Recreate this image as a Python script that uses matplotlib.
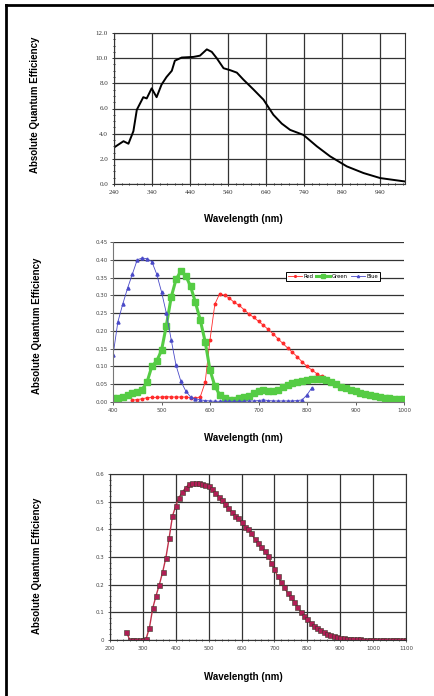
import numpy as np
import matplotlib
matplotlib.use('Agg')
import matplotlib.pyplot as plt
from matplotlib.lines import Line2D
from matplotlib.ticker import MultipleLocator, FormatStrFormatter

# --- panel 1: mono sensor QE ---
wl_top = [240, 265, 278, 291, 300, 317, 326, 339, 352, 365, 378, 392, 400, 418,
          449, 466, 484, 497, 510, 528, 545, 563, 580, 607, 633, 659, 681, 703,
          738, 773, 808, 852, 896, 940, 1005]
qe_top = [2.9, 3.4, 3.2, 4.2, 5.9, 6.9, 6.8, 7.6, 6.9, 7.9, 8.5, 9.0, 9.8, 10.05,
          10.1, 10.2, 10.7, 10.5, 10.0, 9.2, 9.05, 8.85, 8.3, 7.5, 6.7, 5.5, 4.8, 4.3,
          3.9, 3.0, 2.2, 1.4, 0.87, 0.47, 0.2]

# --- panel 2: RGB ---
wl_blue = list(range(400, 811, 10))
qe_blue = [0.131, 0.225, 0.275, 0.32, 0.36, 0.40, 0.405, 0.403, 0.395, 0.36, 0.31,
           0.25, 0.175, 0.103, 0.058, 0.031, 0.014, 0.009, 0.006, 0.004, 0.003,
           0.002, 0.002, 0.002, 0.002, 0.002, 0.002, 0.002, 0.003, 0.003, 0.004,
           0.006, 0.004, 0.003, 0.003, 0.003, 0.003, 0.003, 0.004, 0.006, 0.02, 0.04]

wl_green = list(range(400, 1001, 10))
qe_green = [0.011, 0.012, 0.015, 0.019, 0.024, 0.028, 0.035, 0.055, 0.1, 0.115,
            0.145, 0.215, 0.295, 0.345, 0.368, 0.355, 0.325, 0.28, 0.23, 0.17,
            0.09, 0.045, 0.02, 0.01, 0.007, 0.007, 0.01, 0.014, 0.018, 0.024,
            0.03, 0.033, 0.032, 0.031, 0.035, 0.041, 0.048, 0.053, 0.057, 0.06,
            0.063, 0.065, 0.066, 0.065, 0.061, 0.055, 0.05, 0.043, 0.038, 0.034,
            0.03, 0.026, 0.023, 0.02, 0.017, 0.014, 0.012, 0.011, 0.009, 0.008, 0.0075]

wl_red = list(range(440, 1001, 10))
qe_red = [0.005, 0.007, 0.009, 0.012, 0.013, 0.013, 0.014, 0.015, 0.014, 0.014,
          0.014, 0.014, 0.012, 0.01, 0.015, 0.055, 0.175, 0.275, 0.305, 0.30,
          0.292, 0.28, 0.272, 0.26, 0.248, 0.238, 0.227, 0.216, 0.204, 0.192,
          0.178, 0.165, 0.152, 0.14, 0.127, 0.113, 0.1, 0.09, 0.08, 0.072,
          0.065, 0.058, 0.05, 0.044, 0.038, 0.033, 0.028, 0.024, 0.02, 0.017,
          0.014, 0.012, 0.01, 0.009, 0.008, 0.007, 0.006]

# --- panel 3 ---
wl_bot = list(range(250, 1101, 10))
qe_bot = [0.03, 0.0, 0.0, 0.0, 0.0, 0.0, 0.005, 0.045, 0.115, 0.16, 0.2, 0.245,
          0.298, 0.37, 0.448, 0.485, 0.515, 0.535, 0.55, 0.563, 0.567, 0.568,
          0.566, 0.563, 0.56, 0.555, 0.547, 0.533, 0.518, 0.505, 0.49, 0.476,
          0.463, 0.45, 0.44, 0.425, 0.41, 0.4, 0.385, 0.365, 0.35, 0.335, 0.32,
          0.305, 0.28, 0.255, 0.23, 0.21, 0.19, 0.17, 0.155, 0.138, 0.12, 0.103,
          0.088, 0.075, 0.062, 0.052, 0.043, 0.035, 0.028, 0.022, 0.017, 0.013,
          0.01, 0.008, 0.006, 0.005, 0.004, 0.003, 0.002, 0.002, 0.001, 0.001,
          0.001, 0.001, 0.001, 0.0, 0.0, 0.0, 0.0, 0.0, 0.0, 0.0, 0.0, 0.0]

W, H = 434, 696
fig = plt.figure(figsize=(W / 100, H / 100), dpi=100)
fig.patch.set_facecolor('white')

def px_axes(x0, y0, x1, y1):
    return fig.add_axes([x0 / W, 1 - y1 / H, (x1 - x0) / W, (y1 - y0) / H])

label_font = dict(family='Liberation Sans', fontweight='bold', fontsize=7)
grid_kw = dict(color='#333333', linewidth=0.9)

# frame of the page
fig.add_artist(Line2D([6 / W, 6 / W], [0, 1 - 5 / H], color='black', lw=2.0))
fig.add_artist(Line2D([6 / W, 1], [1 - 5 / H, 1 - 5 / H], color='black', lw=2.0))

# ---------- top ----------
ax1 = px_axes(114, 33, 405, 184)
ax1.plot(wl_top, qe_top, color='black', lw=1.4)
ax1.set_xlim(240, 1005)
ax1.set_ylim(0, 12)
ax1.set_xticks(range(240, 1000, 100))
ax1.set_yticks(np.arange(0, 12.1, 2))
ax1.yaxis.set_major_formatter(FormatStrFormatter('%.1f'))
ax1.xaxis.set_minor_locator(MultipleLocator(20))
ax1.yaxis.set_minor_locator(MultipleLocator(0.5))
ax1.grid(True, which='major', **grid_kw)
ax1.tick_params(which='both', direction='inout', length=2.5, width=0.7,
                labelsize=5, pad=3, colors='#333333')
ax1.tick_params(which='minor', length=1.5)
for lab in ax1.get_xticklabels() + ax1.get_yticklabels():
    lab.set_family('Liberation Serif')
for s in ax1.spines.values():
    s.set_color('#333333')
fig.text(243 / W, 1 - 219 / H, 'Wavelength (nm)', ha='center', va='center', **label_font)
fig.text(35 / W, 1 - 105 / H, 'Absolute Quantum Efficiency', rotation=90,
         ha='center', va='center', **label_font)

# ---------- middle ----------
ax2 = px_axes(113, 242, 404, 402)
ax2.plot(wl_red, qe_red, color='#ff2a2a', lw=0.6, marker='o', ms=1.8, mec='#ff2a2a', label='Red')
ax2.plot(wl_green, qe_green, color='#55cc44', lw=2.2, marker='s', ms=4.2, mec='#55cc44', label='Green')
ax2.plot(wl_blue, qe_blue, color='#4a4ac8', lw=0.6, marker='^', ms=2.2, mec='#4a4ac8', label='Blue')
ax2.set_xlim(400, 1000)
ax2.set_ylim(0, 0.45)
ax2.set_xticks(range(400, 1001, 100))
ax2.set_yticks(np.arange(0, 0.451, 0.05))
ax2.yaxis.set_major_formatter(FormatStrFormatter('%.2f'))
ax2.yaxis.grid(True, **grid_kw)
ax2.set_axisbelow(True)
ax2.tick_params(direction='out', length=2, width=0.6, labelsize=4, pad=2, colors='#444444')
ax2.spines['top'].set_visible(False)
ax2.spines['right'].set_visible(False)
ax2.spines['left'].set_color('#777777')
ax2.spines['bottom'].set_color('#777777')
leg = ax2.legend(loc='center', bbox_to_anchor=(333 / W, 1 - 276.5 / H),
                 bbox_transform=fig.transFigure, ncol=3, fontsize=3.8,
                 frameon=True, fancybox=False, edgecolor='black', framealpha=1,
                 handlelength=2.6, columnspacing=0.6, handletextpad=0.3,
                 borderpad=0.4, markerscale=0.7)
leg.get_frame().set_linewidth(0.7)
fig.text(243 / W, 1 - 438 / H, 'Wavelength (nm)', ha='center', va='center', **label_font)
fig.text(37 / W, 1 - 326 / H, 'Absolute Quantum Efficiency', rotation=90,
         ha='center', va='center', **label_font)

# ---------- bottom ----------
ax3 = px_axes(110, 474, 406, 640)
ax3.plot(wl_bot, qe_bot, color='#c0304a', lw=1.0, marker='s', ms=3.6,
         mfc='#b01e55', mec='#3a3a2a', mew=0.4)
ax3.set_xlim(200, 1100)
ax3.set_ylim(0, 0.6)
ax3.set_xticks(range(200, 1101, 100))
ax3.set_yticks(np.arange(0, 0.61, 0.1))
ax3.set_yticklabels(['0', '0.1', '0.2', '0.3', '0.4', '0.5', '0.6'])
ax3.xaxis.set_minor_locator(MultipleLocator(20))
ax3.yaxis.set_minor_locator(MultipleLocator(0.02))
ax3.grid(True, which='major', **grid_kw)
ax3.set_axisbelow(True)
ax3.tick_params(which='both', direction='inout', length=2.5, width=0.6,
                labelsize=4, pad=3, colors='#444444')
ax3.tick_params(which='minor', length=1.5)
for s in ax3.spines.values():
    s.set_color('#333333')
fig.text(243 / W, 1 - 677 / H, 'Wavelength (nm)', ha='center', va='center', **label_font)
fig.text(37 / W, 1 - 566 / H, 'Absolute Quantum Efficiency', rotation=90,
         ha='center', va='center', **label_font)

plt.savefig('out.png', dpi=100)
plt.close()
